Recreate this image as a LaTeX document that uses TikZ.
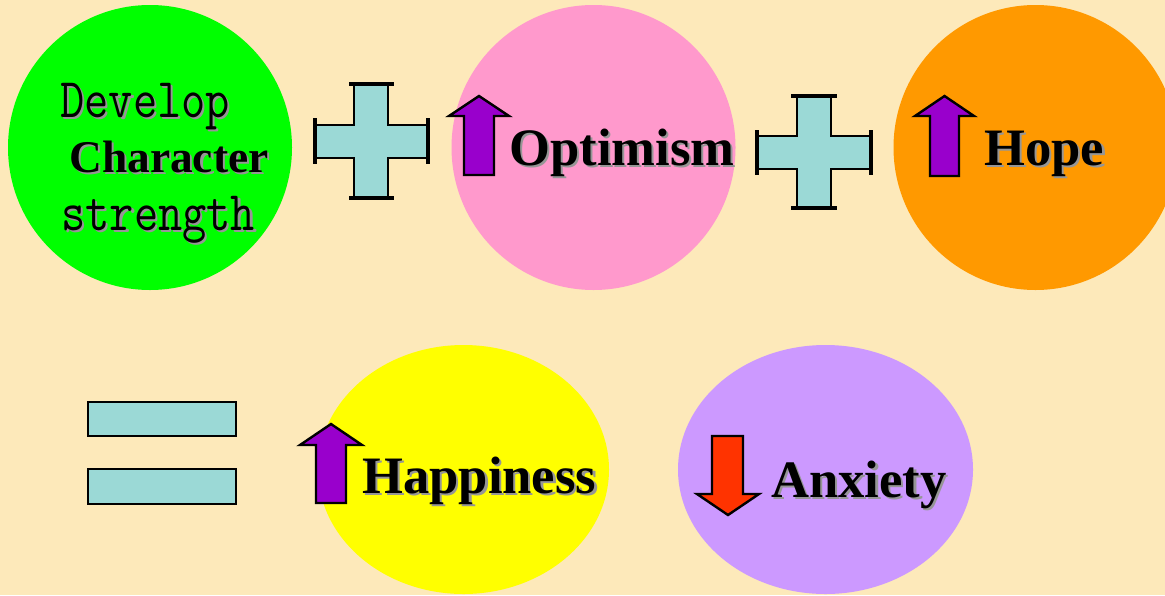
\documentclass[tikz,border=0pt]{standalone}
\usepackage{fontspec}
\setmainfont{Liberation Serif}
\newfontfamily\devfont[FakeStretch=0.84]{Latin Modern Mono}
\definecolor{bgc}{RGB}{253,233,186}
\definecolor{greenc}{RGB}{0,255,0}
\definecolor{pinkc}{RGB}{255,153,204}
\definecolor{orangec}{RGB}{255,153,0}
\definecolor{yellowc}{RGB}{255,255,0}
\definecolor{lilacc}{RGB}{204,153,255}
\definecolor{tealc}{RGB}{155,217,214}
\definecolor{arrowpurple}{RGB}{153,0,204}
\definecolor{arrowred}{RGB}{255,51,0}
\definecolor{shadowc}{RGB}{150,150,150}
\newcommand{\shtext}[1]{\makebox[0pt][l]{\hspace{1.1pt}\raisebox{-1.1pt}{\textcolor{shadowc}{#1}}}#1}
\tikzset{
  lbl/.style={anchor=base west, inner sep=0pt, font=\fontsize{26.3}{26.3}\selectfont\bfseries},
  devlbl/.style={anchor=base west, inner sep=0pt, font=\fontsize{28}{28}\devfont},
  charlbl/.style={anchor=base west, inner sep=0pt, font=\fontsize{22.7}{22.7}\selectfont\bfseries},
  tealshape/.style={fill=tealc, draw=black, line width=1.3pt, line join=miter},
  capline/.style={draw=black, line width=1.6pt},
  uparrow/.style={fill=arrowpurple, draw=black, line width=1.2pt, line join=miter},
  downarrow/.style={fill=arrowred, draw=black, line width=1.2pt, line join=miter}
}
\begin{document}
\begin{tikzpicture}[x=0.5pt, y=-0.5pt]
\useasboundingbox (0,0) rectangle (1165,595);
\fill[bgc] (0,0) rectangle (1165,595);
% circles
\fill[greenc] (150,147.5) ellipse [x radius=142, y radius=142.5];
\fill[pinkc] (593.5,147.5) ellipse [x radius=142, y radius=142.5];
\fill[orangec] (1035.5,147.5) ellipse [x radius=142, y radius=142.5];
\fill[yellowc] (463.5,469.5) ellipse [x radius=145.5, y radius=124.5];
\fill[lilacc] (825.5,469.5) ellipse [x radius=147.5, y radius=124.5];
% plus 1
\path[tealshape] (354,84) -- (388,84) -- (388,125) -- (428,125) -- (428,158) -- (388,158) -- (388,198) -- (354,198) -- (354,158) -- (315,158) -- (315,125) -- (354,125) -- cycle;
\draw[capline] (349,84) -- (394,84);
\draw[capline] (349,198) -- (394,198);
\draw[capline] (315,118) -- (315,164);
\draw[capline] (428,118) -- (428,164);
% plus 2
\path[tealshape] (797,96) -- (831,96) -- (831,136) -- (871,136) -- (871,169) -- (831,169) -- (831,208) -- (797,208) -- (797,169) -- (757,169) -- (757,136) -- (797,136) -- cycle;
\draw[capline] (791,96) -- (837,96);
\draw[capline] (791,208) -- (837,208);
\draw[capline] (757,130) -- (757,175);
\draw[capline] (871,130) -- (871,175);
% equals
\path[tealshape] (88,402) rectangle (236,436);
\path[tealshape] (88,469) rectangle (236,504);
% arrows
\path[uparrow] (464,175) -- (464,116) -- (449,116) -- (479,96) -- (509,116) -- (494,116) -- (494,175) -- cycle;
\path[uparrow] (930,176) -- (930,116) -- (915,116) -- (944.5,96) -- (974,116) -- (959,116) -- (959,176) -- cycle;
\path[uparrow] (316,503) -- (316,445) -- (300,445) -- (331,424) -- (362,445) -- (346,445) -- (346,503) -- cycle;
\path[downarrow] (712,436) -- (743,436) -- (743,494) -- (759,494) -- (728,515) -- (697,494) -- (712,494) -- cycle;
% labels
\node[devlbl] (develop) at (60,117) {\shtext{Develop}};
\node[charlbl] (character) at (69,172) {\shtext{Character}};
\node[devlbl] (strength) at (61,230) {\shtext{strength}};
\node[lbl] (optimism) at (509,165) {\shtext{Optimism}};
\node[lbl] (hope) at (984,165) {\shtext{Hope}};
\node[lbl] (happiness) at (362,493) {\shtext{Happiness}};
\node[lbl] (anxiety) at (771,497) {\shtext{Anxiety}};
\end{tikzpicture}
\end{document}
